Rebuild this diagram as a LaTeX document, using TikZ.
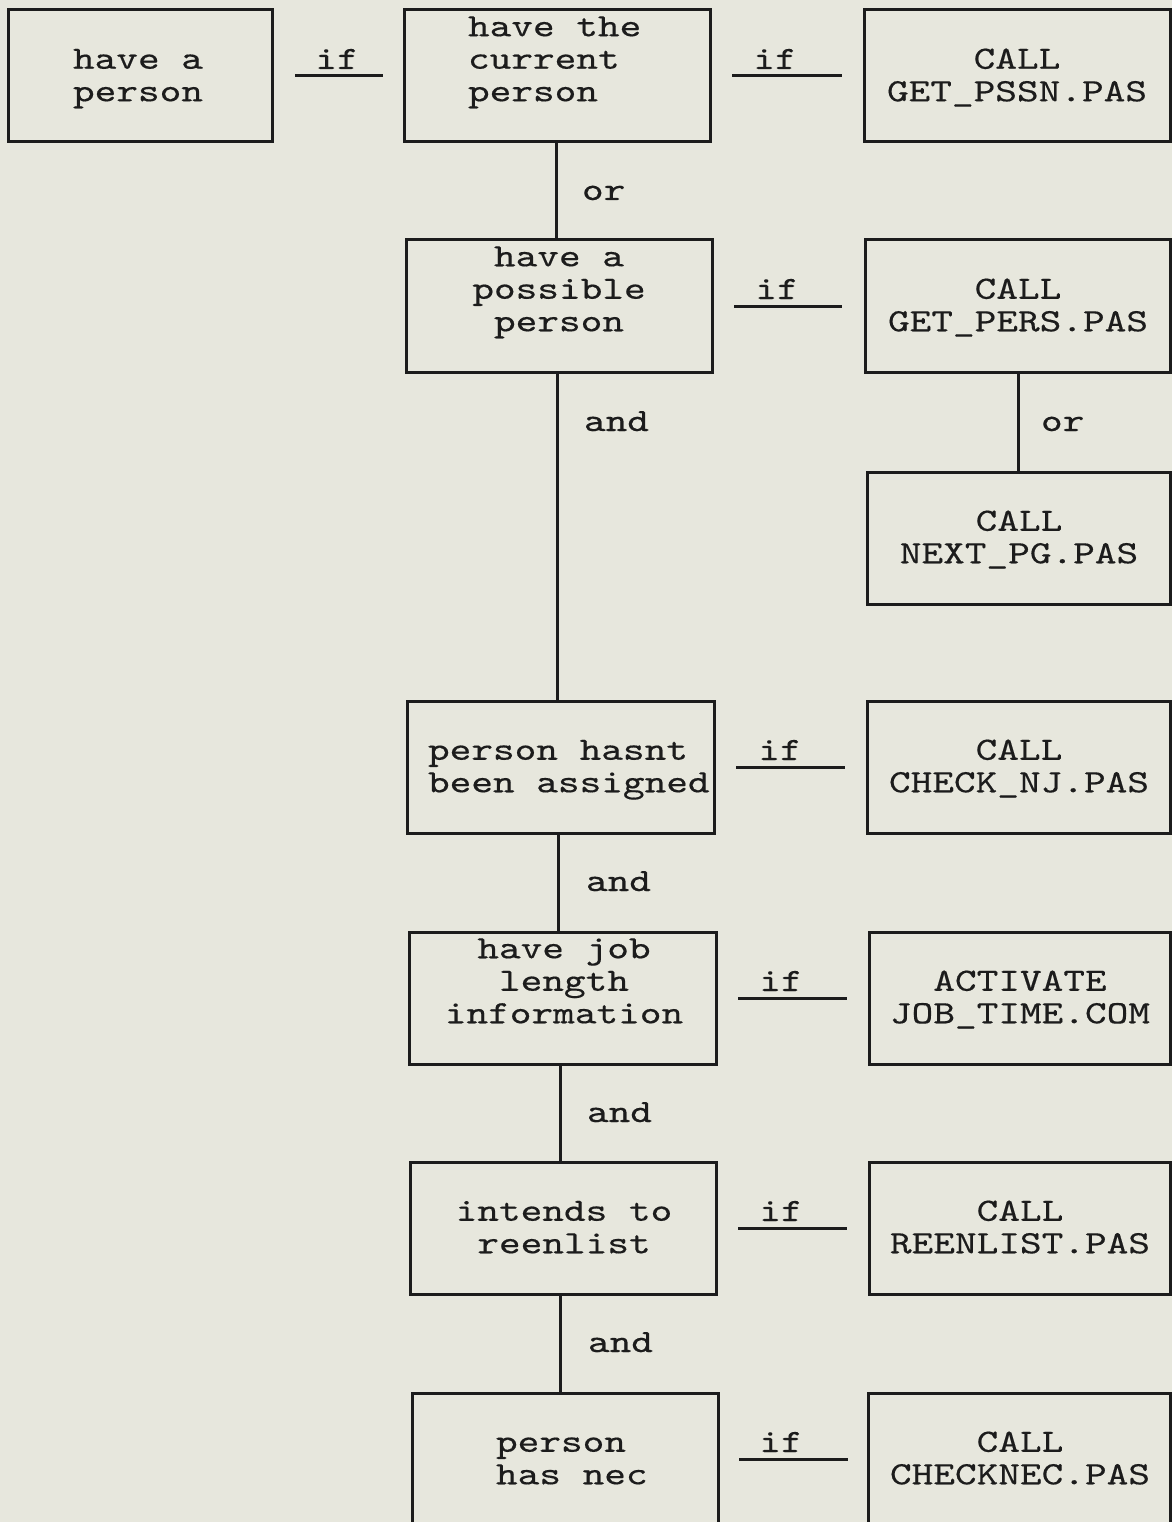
\documentclass[tikz,border=0pt]{standalone}
\usepackage{fontspec}
\setmonofont{lmmono10-regular.otf}[FakeStretch=1.27,FakeBold=0.4]
\definecolor{paper}{RGB}{231,231,221}
\definecolor{ink}{RGB}{28,28,28}
\tikzset{
  box/.style={draw=ink, line width=3pt, rectangle, inner sep=0pt, outer sep=0pt,
    minimum height=132pt, anchor=north west},
  txt/.style={font=\ttfamily\fontsize{32.5}{32.5}\selectfont, text=ink, inner sep=0pt, outer sep=0pt},
  lbl/.style={font=\ttfamily\fontsize{32.5}{32.5}\selectfont, text=ink, inner sep=0pt, outer sep=0pt},
  link/.style={draw=ink, line width=3pt},
}
\begin{document}
\begin{tikzpicture}[x=1pt,y=-1pt]
\fill[paper] (0,0) rectangle (1172,1522);
\useasboundingbox (0,0) rectangle (1172,1522);

% boxes
\node[box, minimum width=264pt] (b1) at (8,10) {};
\node[box, minimum width=306pt] (b2) at (404,10) {};
\node[box, minimum width=306pt] (b3) at (864,10) {};
\node[box, minimum width=306pt] (b4) at (406,240) {};
\node[box, minimum width=305pt] (b5) at (865,240) {};
\node[box, minimum width=303pt] (b6) at (867,472) {};
\node[box, minimum width=307pt] (b7) at (407,701) {};
\node[box, minimum width=303pt] (b8) at (867,701) {};
\node[box, minimum width=307pt] (b9) at (409,932) {};
\node[box, minimum width=301pt] (b10) at (869,932) {};
\node[box, minimum width=306pt] (b11) at (410,1162) {};
\node[box, minimum width=301pt] (b12) at (869,1162) {};
\node[box, minimum width=306pt] (b13) at (412,1393) {};
\node[box, minimum width=302pt] (b14) at (868,1393) {};

% texts
\node[txt, align=left, anchor=south west] (t1) at (73,111) {\strut have a\\\strut person};
\node[txt, align=left, anchor=south west] (t2) at (468,111) {\strut have the\\\strut current\\\strut person};
\node[txt, align=center, anchor=south] (t3) at (1017,111) {\strut CALL\\\strut GET\_PSSN.PAS};
\node[txt, align=center, anchor=south] (t4) at (559,341) {\strut have a\\\strut possible\\\strut person};
\node[txt, align=center, anchor=south] (t5) at (1018,341) {\strut CALL\\\strut GET\_PERS.PAS};
\node[txt, align=center, anchor=south] (t6) at (1019,573) {\strut CALL\\\strut NEXT\_PG.PAS};
\node[txt, align=left, anchor=south west] (t7) at (428,802) {\strut person hasnt\\\strut been assigned};
\node[txt, align=center, anchor=south] (t8) at (1019,802) {\strut CALL\\\strut CHECK\_NJ.PAS};
\node[txt, align=center, anchor=south] (t9) at (564,1033) {\strut have job\\\strut length\\\strut information};
\node[txt, align=center, anchor=south] (t10) at (1020,1033) {\strut ACTIVATE\\\strut JOB\_TIME.COM};
\node[txt, align=center, anchor=south] (t11) at (564,1263) {\strut intends to\\\strut reenlist};
\node[txt, align=center, anchor=south] (t12) at (1020,1263) {\strut CALL\\\strut REENLIST.PAS};
\node[txt, align=left, anchor=south west] (t13) at (496,1494) {\strut person\\\strut has nec};
\node[txt, align=center, anchor=south] (t14) at (1020,1494) {\strut CALL\\\strut CHECKNEC.PAS};

% "if" underlines
\coordinate (u1a) at (295,76);  \coordinate (u1b) at (383,76);
\coordinate (u2a) at (732,76);  \coordinate (u2b) at (842,76);
\coordinate (u3a) at (734,306); \coordinate (u3b) at (842,306);
\coordinate (u4a) at (736,767); \coordinate (u4b) at (845,767);
\coordinate (u5a) at (738,998); \coordinate (u5b) at (847,998);
\coordinate (u6a) at (738,1228); \coordinate (u6b) at (847,1228);
\coordinate (u7a) at (739,1459); \coordinate (u7b) at (848,1459);
\foreach \i in {1,...,7} { \draw[link] (u\i a) -- (u\i b); }
\node[lbl, anchor=base] (if1) at (337,69) {if};
\node[lbl, anchor=base] (if2) at (775,69) {if};
\node[lbl, anchor=base] (if3) at (777,299) {if};
\node[lbl, anchor=base] (if4) at (780,760) {if};
\node[lbl, anchor=base] (if5) at (781,991) {if};
\node[lbl, anchor=base] (if6) at (781,1221) {if};
\node[lbl, anchor=base] (if7) at (781,1452) {if};

% vertical connectors
\draw[link] (b2.south -| 556,0) -- (b4.north -| 556,0);
\draw[link] (b4.south -| 557,0) -- (b7.north -| 557,0);
\draw[link] (b5.south -| 1018,0) -- (b6.north -| 1018,0);
\draw[link] (b7.south -| 558,0) -- (b9.north -| 558,0);
\draw[link] (b9.south -| 560,0) -- (b11.north -| 560,0);
\draw[link] (b11.south -| 560,0) -- (b13.north -| 560,0);

% connector labels
\node[lbl, anchor=base west] (or1) at (582,200) {or};
\node[lbl, anchor=base west] (and1) at (584,431) {and};
\node[lbl, anchor=base west] (or2) at (1041,431) {or};
\node[lbl, anchor=base west] (and2) at (586,891) {and};
\node[lbl, anchor=base west] (and3) at (587,1122) {and};
\node[lbl, anchor=base west] (and4) at (588,1352) {and};
\end{tikzpicture}
\end{document}
